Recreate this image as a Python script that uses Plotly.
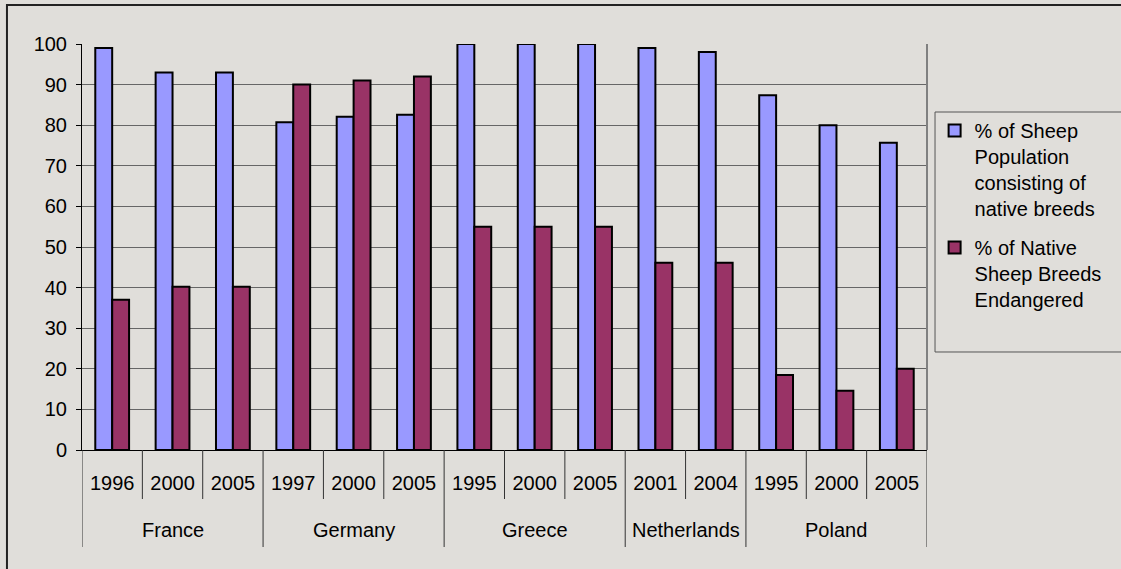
import plotly.graph_objects as go

# ── data ─────────────────────────────────────────────────────────────────────
COUNTRIES = ["France", "France", "France",
             "Germany", "Germany", "Germany",
             "Greece", "Greece", "Greece",
             "Netherlands", "Netherlands",
             "Poland", "Poland", "Poland"]
YEARS = ["1996", "2000", "2005",
         "1997", "2000", "2005",
         "1995", "2000", "2005",
         "2001", "2004",
         "1995", "2000", "2005"]
NATIVE_SHARE = [99, 93, 93, 80.7, 82.1, 82.6, 100, 100, 100, 99, 98, 87.4, 80.0, 75.7]
ENDANGERED = [37, 40.2, 40.2, 90, 91, 92, 55, 55, 55, 46.1, 46.1, 18.5, 14.6, 20]

SERIES_NAMES = ["% of Sheep<br>Population<br>consisting of<br>native breeds",
                "% of Native<br>Sheep Breeds<br>Endangered"]

# ── style ────────────────────────────────────────────────────────────────────
BG = "#E0DEDA"
BLUE = "#9999FF"
PLUM = "#993366"
GRID = "#666666"
FONT = dict(family="Liberation Sans, Arial, sans-serif", size=20, color="black")

# one unique x key per bar pair, labelled with the year only
keys = [f"{c} {y}" for c, y in zip(COUNTRIES, YEARS)]

fig = go.Figure()
for name, values, color, group in [
    (SERIES_NAMES[0], NATIVE_SHARE, BLUE, "a"),
    (SERIES_NAMES[1], ENDANGERED, PLUM, "b"),
]:
    fig.add_trace(
        go.Bar(
            x=keys,
            y=values,
            name=name,
            legendgroup=group,
            marker=dict(color=color, line=dict(color="black", width=2)),
        )
    )

# ── two-level category axis: separators + country labels ──────────────────
short_tick = -49 / 406
long_tick = -97 / 406
shapes = []
annotations = []
boundaries = {0, len(keys)}
start = 0
for i in range(1, len(keys) + 1):
    if i == len(keys) or COUNTRIES[i] != COUNTRIES[start]:
        boundaries.add(i)
        annotations.append(dict(
            x=(start + i - 1) / 2, xref="x",
            y=-0.197, yref="paper",
            text=COUNTRIES[start], showarrow=False,
            font=FONT, yanchor="middle",
        ))
        start = i
for i in range(len(keys) + 1):
    shapes.append(dict(
        type="line", xref="x", yref="paper",
        x0=i - 0.5, x1=i - 0.5, y0=0,
        y1=long_tick if i in boundaries else short_tick,
        line=dict(color="#333333", width=1),
    ))

shapes += [
    # outer chart border (only top/left visible in the crop)
    dict(type="rect", xref="paper", yref="paper",
         x0=-0.0888, x1=1.6, y0=-0.5, y1=1.096,
         line=dict(color="#222222", width=2), layer="below"),
    # plot area right border
    dict(type="line", xref="paper", yref="paper",
         x0=1, x1=1, y0=0, y1=1,
         line=dict(color="#808080", width=2)),
    # legend box
    dict(type="rect", xref="paper", yref="paper",
         x0=1.0095, x1=1.6, y0=0.2414, y1=0.8325,
         line=dict(color="#555555", width=1)),
]

fig.update_layout(
    width=1121,
    height=569,
    barmode="group",
    bargap=0.44,
    bargroupgap=0,
    paper_bgcolor=BG,
    plot_bgcolor=BG,
    font=FONT,
    margin=dict(l=82, r=194, t=44, b=119),
    showlegend=True,
    legend=dict(
        x=1.009, xanchor="left",
        y=0.835, yanchor="top",
        bgcolor="rgba(0,0,0,0)",
        traceorder="grouped",
        tracegroupgap=10,
        valign="top",
        itemwidth=30,
        font=FONT,
    ),
    yaxis=dict(
        range=[0, 100],
        dtick=10,
        showgrid=True,
        gridcolor=GRID,
        gridwidth=1,
        showline=True,
        linecolor="black",
        linewidth=1,
        ticks="outside",
        ticklen=5,
        tickcolor="black",
        ticklabelstandoff=5,
        zeroline=False,
        fixedrange=True,
    ),
    xaxis=dict(
        type="category",
        range=[-0.5, len(keys) - 0.5],
        tickvals=keys,
        ticktext=YEARS,
        ticks="",
        ticklabelstandoff=15,
        showline=True,
        linecolor="black",
        linewidth=1,
        showgrid=False,
        fixedrange=True,
    ),
    shapes=shapes,
    annotations=annotations,
)

fig.write_html(
    "out.html",
    config={"displayModeBar": False},
    post_script="document.body.style.margin='0';",
)
